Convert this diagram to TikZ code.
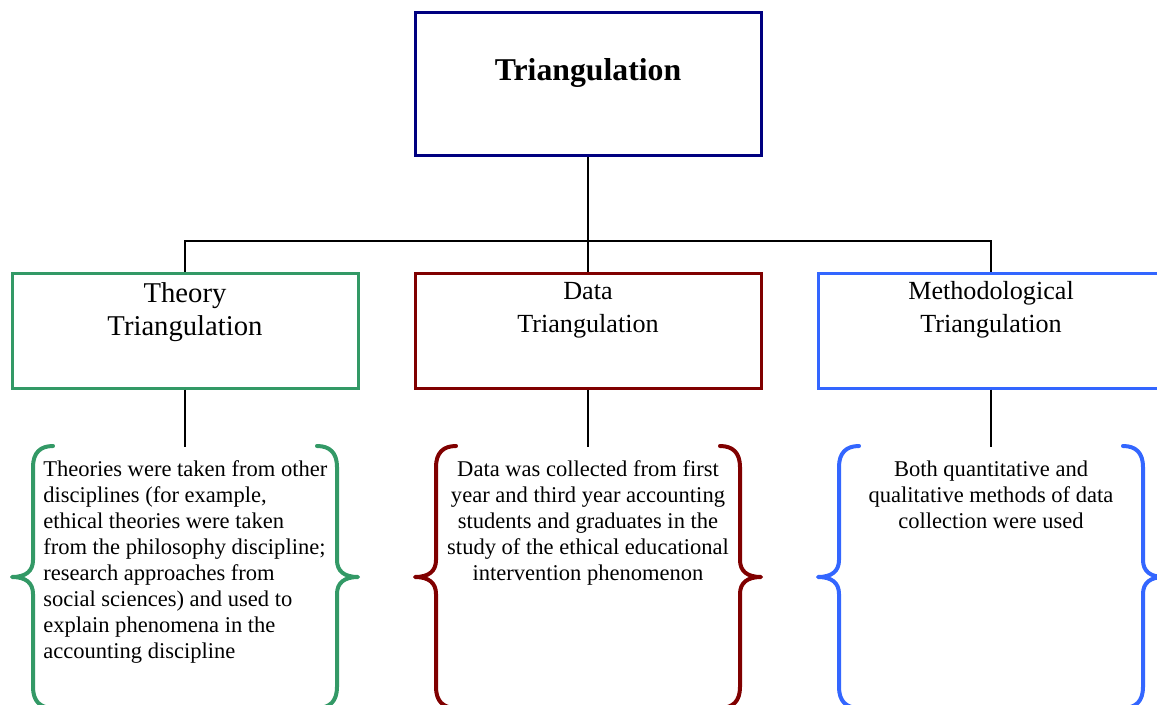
\documentclass[tikz,border=0pt]{standalone}
\usepackage{fontspec}
\setmainfont{Liberation Serif}
\definecolor{navy}{HTML}{000080}
\definecolor{theorygreen}{HTML}{339966}
\definecolor{datared}{HTML}{800000}
\definecolor{methblue}{HTML}{3366FF}
\tikzset{
  mainbox/.style={draw=navy, line width=2.25pt, minimum width=259.5pt, minimum height=107.25pt, inner sep=0pt},
  kindbox/.style={draw, line width=2.25pt, minimum width=259.5pt, minimum height=86.25pt, inner sep=0pt},
  kindtitle/.style={anchor=north, align=center, inner sep=0pt},
  bodytext/.style={anchor=north, align=center, inner sep=0pt, font=\fontsize{16.9}{19.5}\selectfont},
  wire/.style={draw=black, line width=1.1pt},
  curly/.pic={
    \draw[pic actions, line width=3pt, line cap=round, line join=round]
      (41,-131) .. controls (28,-131) and (21,-124) .. (21,-110)
      -- (21,-17) .. controls (21,-6) and (14,0) .. (0,0)
      .. controls (14,0) and (21,6) .. (21,17)
      -- (21,110) .. controls (21,124) and (28,131) .. (41,131);
  }
}
\begin{document}
\begin{tikzpicture}[x=0.75pt, y=-0.75pt]
  \useasboundingbox (0,0) rectangle (1157,704);

  % top box
  \node[mainbox] (top) at (588,83.5) {};
  \node[anchor=base, inner sep=0pt, font=\fontsize{23.8}{28}\selectfont\bfseries] (toptitle) at (588,80) {Triangulation};

  % the three kinds of triangulation
  \node[kindbox, draw=theorygreen] (theory) at (185,330.5) {};
  \node[kindbox, draw=datared] (data) at (588,330.5) {};
  \node[kindbox, draw=methblue] (meth) at (991,330.5) {};

  \node[kindtitle, font=\fontsize{21.5}{24.75}\selectfont] (theorytitle) at (185,282) {Theory\\Triangulation};
  \node[kindtitle, font=\fontsize{19.6}{24.75}\selectfont] (datatitle) at (588,282) {Data\\Triangulation};
  \node[kindtitle, font=\fontsize{19.6}{24.75}\selectfont] (methtitle) at (991,281) {Methodological\\Triangulation};

  % tree connectors
  \coordinate (hub) at (588,241);
  \draw[wire] (top.south) -- (hub);
  \draw[wire] (hub) -| (theory.north);
  \draw[wire] (hub) -| (meth.north);
  \draw[wire] (hub) -- (data.north);

  % stubs down to the braces
  \coordinate (theorytip) at (185,447);
  \coordinate (datatip) at (588,447);
  \coordinate (methtip) at (991,447);
  \draw[wire] (theory.south) -- (theorytip);
  \draw[wire] (data.south) -- (datatip);
  \draw[wire] (meth.south) -- (methtip);

  % curly braces
  \pic[draw=theorygreen] at (12,577) {curly};
  \pic[draw=theorygreen, xscale=-1] at (358,577) {curly};
  \pic[draw=datared] at (415,577) {curly};
  \pic[draw=datared, xscale=-1] at (761,577) {curly};
  \pic[draw=methblue] at (818,577) {curly};
  \pic[draw=methblue, xscale=-1] at (1164,577) {curly};

  % descriptions
  \node[bodytext, anchor=north west, align=left] (theorybody) at (43,460) {Theories were taken from other\\disciplines (for example,\\ethical theories were taken\\from the philosophy discipline;\\research approaches from\\social sciences) and used to\\explain phenomena in the\\accounting discipline};
  \node[bodytext] (databody) at (588,460.5) {Data was collected from first\\year and third year accounting\\students and graduates in the\\study of the ethical educational\\intervention phenomenon};
  \node[bodytext] (methbody) at (991,460.5) {Both quantitative and\\qualitative methods of data\\collection were used};
\end{tikzpicture}
\end{document}
